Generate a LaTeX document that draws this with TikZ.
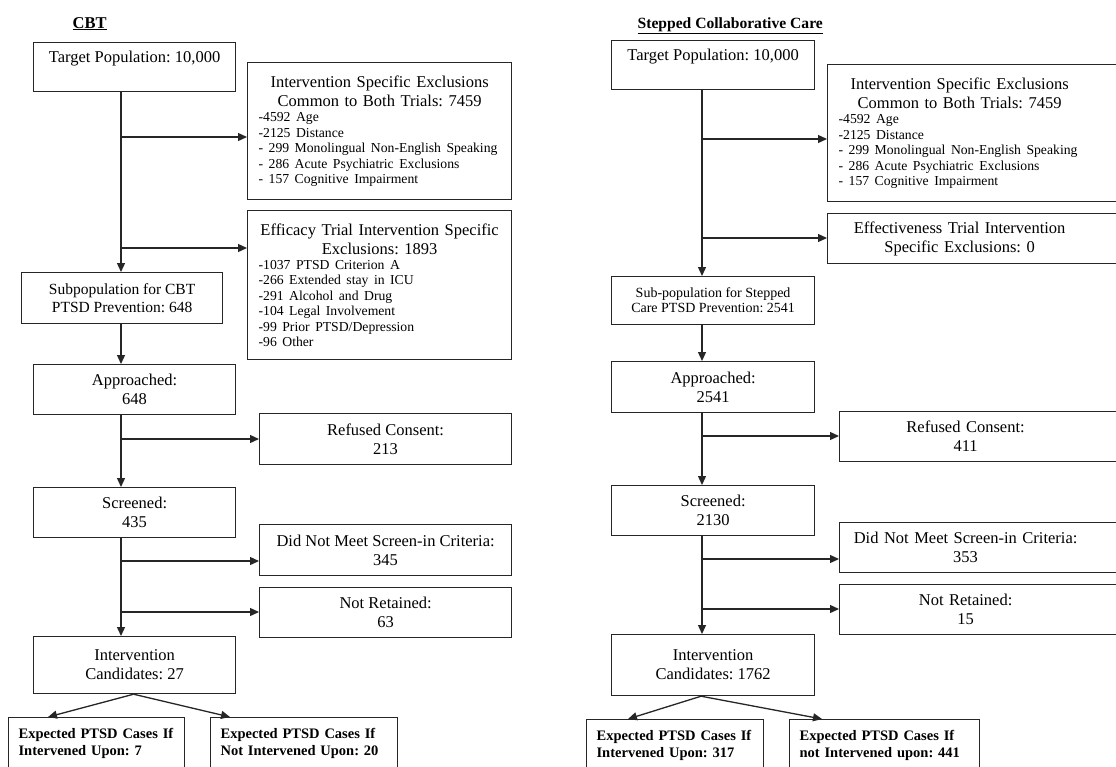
\documentclass[tikz,border=0pt]{standalone}
\usepackage{fontspec}
\setmainfont{Liberation Serif}
\usetikzlibrary{arrows.meta}
\frenchspacing
\newcommand{\txtmain}{\fontsize{16.5}{19}\selectfont}
\newcommand{\txtmid}{\fontsize{15.5}{18.7}\selectfont}
\newcommand{\txtsmall}{\fontsize{14}{15}\selectfont}
\newcommand{\txtlist}{\fontsize{13.7}{15.4}\selectfont}
\newcommand{\txtexp}{\fontsize{14.5}{17.6}\selectfont\bfseries}
\begin{document}
\begin{tikzpicture}[x=1pt,y=-1pt,>={Triangle[length=9pt,width=8pt]},
  line width=1.3pt,draw=black!85,
  box/.style={draw=black!85,line width=1.2pt,anchor=north west,font=\txtmain,align=center,inner sep=4pt},
  exclbox/.style={box,align=left,inner xsep=11pt,text width=#1},
  expbox/.style={box,align=left,inner xsep=10pt,font=\txtexp,text width=#1},
  title/.style={anchor=base west,inner sep=0pt,font=\txtmain\bfseries}]
  \clip (0,0) rectangle (1116,766);
  % CBT
  \node[title] (cbt) at (72,28) {\underline{CBT}};
  \node[box,minimum width=202pt,minimum height=49pt,text height=16pt,text depth=25pt] (tgtL) at (33,42) {Target Population: 10,000};
  \node[exclbox=242pt,minimum height=137pt] (ex1L) at (247,62) {{\centering Intervention Specific Exclusions\\Common to Both Trials: 7459\par}
    {\txtlist -4592 Age\\-2125 Distance\\- 299 Monolingual Non-English Speaking\\- 286 Acute Psychiatric Exclusions\\- 157 Cognitive Impairment\par}};
  \node[exclbox=242pt,minimum height=149pt] (ex2L) at (247,210) {{\centering Efficacy Trial Intervention Specific\\Exclusions: 1893\par}
    {\txtlist -1037 PTSD Criterion A\\-266 Extended stay in ICU\\-291 Alcohol and Drug\\-104 Legal Involvement\\-99 Prior PTSD/Depression\\-96 Other\par}};
  \node[box,minimum width=201pt,minimum height=51pt,font=\txtmid] (subL) at (21,272) {Subpopulation for CBT\\PTSD Prevention: 648};
  \node[box,minimum width=202pt,minimum height=50pt] (appL) at (33,364) {Approached:\\648};
  \node[box,minimum width=252pt,minimum height=51pt] (refL) at (259,413) {Refused Consent:\\213};
  \node[box,minimum width=202pt,minimum height=50pt] (scrL) at (33,487) {Screened:\\435};
  \node[box,minimum width=252pt,minimum height=51pt] (dnmL) at (259,524) {Did Not Meet Screen-in Criteria:\\345};
  \node[box,minimum width=252pt,minimum height=50pt] (nrL) at (259,587) {Not Retained:\\63};
  \node[box,minimum width=202pt,minimum height=57pt] (canL) at (33,636) {Intervention\\Candidates: 27};
  \node[expbox=156pt,minimum height=52pt] (eL1) at (8,717) {Expected PTSD Cases If\\Intervened Upon: 7};
  \node[expbox=167pt,minimum height=52pt] (eL2) at (210,717) {Expected PTSD Cases If\\Not Intervened Upon: 20};
  \coordinate (sL) at (121,0);
  \coordinate (bL1) at (121,137);
  \coordinate (bL2) at (121,248);
  \coordinate (bL3) at (121,439);
  \coordinate (bL4) at (121,561);
  \coordinate (bL5) at (121,612);
  \draw[->] (tgtL.south -| sL) -- (subL.north -| sL);
  \draw[->] (bL1) -- (bL1 -| ex1L.west);
  \draw[->] (bL2) -- (bL2 -| ex2L.west);
  \draw[->] (subL.south -| sL) -- (appL.north -| sL);
  \draw[->] (appL.south -| sL) -- (scrL.north -| sL);
  \draw[->] (bL3) -- (bL3 -| refL.west);
  \draw[->] (scrL.south -| sL) -- (canL.north -| sL);
  \draw[->] (bL4) -- (bL4 -| dnmL.west);
  \draw[->] (bL5) -- (bL5 -| nrL.west);
  \draw[->] ([xshift=-1pt]canL.south) -- ([xshift=40pt]eL1.north west);
  \draw[->] ([xshift=-1pt]canL.south) -- ([xshift=20pt]eL2.north west);
  % Stepped care
  \node[title,font=\fontsize{15.6}{19}\selectfont\bfseries] (scc) at (637,28) {\underline{Stepped Collaborative Care}};
  \node[box,minimum width=203pt,minimum height=49pt,text height=16pt,text depth=25pt] (tgtR) at (611,40) {Target Population: 10,000};
  \node[exclbox=276pt,minimum height=137pt] (ex1R) at (827,64) {\parbox{242pt}{{\centering Intervention Specific Exclusions\\Common to Both Trials: 7459\par}
    {\txtlist -4592 Age\\-2125 Distance\\- 299 Monolingual Non-English Speaking\\- 286 Acute Psychiatric Exclusions\\- 157 Cognitive Impairment\par}}};
  \node[exclbox=276pt,minimum height=50pt] (ex2R) at (827,213) {\parbox{242pt}{\centering Effectiveness Trial Intervention\\Specific Exclusions: 0}};
  \node[box,minimum width=203pt,minimum height=48pt,font=\txtsmall] (subR) at (611,276) {Sub-population for Stepped\\Care PTSD Prevention: 2541};
  \node[box,minimum width=203pt,minimum height=51pt] (appR) at (611,361) {Approached:\\2541};
  \node[exclbox=264pt,minimum height=50pt] (refR) at (839,411) {\parbox{230pt}{\centering Refused Consent:\\411}};
  \node[box,minimum width=203pt,minimum height=50pt] (scrR) at (611,485) {Screened:\\2130};
  \node[exclbox=264pt,minimum height=50pt] (dnmR) at (839,522) {\parbox{230pt}{\centering Did Not Meet Screen-in Criteria:\\353}};
  \node[exclbox=264pt,minimum height=50pt] (nrR) at (839,584) {\parbox{230pt}{\centering Not Retained:\\15}};
  \node[box,minimum width=203pt,minimum height=61pt] (canR) at (611,634) {Intervention\\Candidates: 1762};
  \node[expbox=157pt,minimum height=52pt] (eR1) at (586,719) {Expected PTSD Cases If\\Intervened Upon: 317};
  \node[expbox=170pt,minimum height=52pt] (eR2) at (789,719) {Expected PTSD Cases If\\not Intervened upon: 441};
  \coordinate (sR) at (702,0);
  \coordinate (bR1) at (702,139);
  \coordinate (bR2) at (702,238);
  \coordinate (bR3) at (702,436);
  \coordinate (bR4) at (702,559);
  \coordinate (bR5) at (702,609);
  \draw[->] (tgtR.south -| sR) -- (subR.north -| sR);
  \draw[->] (bR1) -- (bR1 -| ex1R.west);
  \draw[->] (bR2) -- (bR2 -| ex2R.west);
  \draw[->] (subR.south -| sR) -- (appR.north -| sR);
  \draw[->] (appR.south -| sR) -- (scrR.north -| sR);
  \draw[->] (bR3) -- (bR3 -| refR.west);
  \draw[->] (scrR.south -| sR) -- (canR.north -| sR);
  \draw[->] (bR4) -- (bR4 -| dnmR.west);
  \draw[->] (bR5) -- (bR5 -| nrR.west);
  \draw[->] ([xshift=-12pt]canR.south) -- ([xshift=42pt]eR1.north west);
  \draw[->] ([xshift=-12pt]canR.south) -- ([xshift=33pt]eR2.north west);
\end{tikzpicture}
\end{document}
